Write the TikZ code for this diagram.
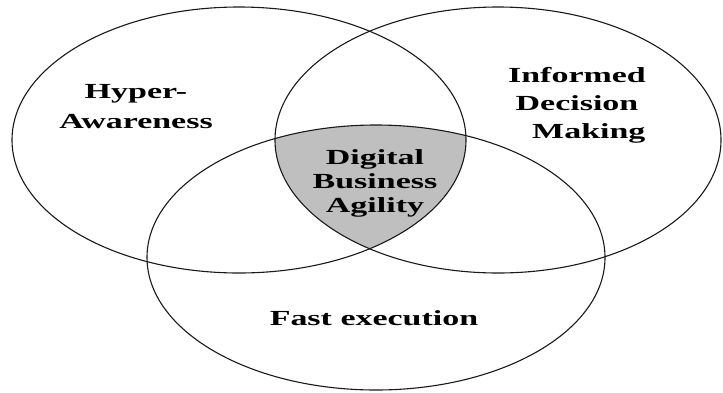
\documentclass[tikz,border=0pt]{standalone}
\usepackage{fontspec}
\setmainfont{Liberation Serif}
\begin{document}
\begin{tikzpicture}[x=1pt,y=-1pt,
  ring/.style={draw=black!90,line width=1.1pt},
  core/.style={fill=black!25},
  label/.style={font=\fontsize{21.5}{28}\selectfont\bfseries,align=center,xscale=1.58,inner sep=0pt}]
\useasboundingbox (0,0) rectangle (723,392);
% the three sets
\def\setA{(239,140) ellipse [x radius=227,y radius=133]}
\def\setB{(498,140) ellipse [x radius=223,y radius=133]}
\def\setC{(376,257.5) ellipse [x radius=229,y radius=132.5]}
% common part of all three
\begin{scope}
  \clip \setA;
  \clip \setB;
  \fill[core] \setC;
\end{scope}
\draw[ring] \setA;
\draw[ring] \setB;
\draw[ring] \setC;
% labels
\node[label,font=\fontsize{21.5}{30}\selectfont\bfseries] (hyper) at (136,107) {Hyper-\\Awareness};
\node[label] (informed) at (577,105) {Informed\\Decision\\\hspace*{15pt}Making};
\node[label,font=\fontsize{21.5}{24}\selectfont\bfseries] (agility) at (375,183) {Digital\\Business\\Agility};
\node[label,anchor=base] (fast) at (374,325) {Fast execution};
\end{tikzpicture}
\end{document}
